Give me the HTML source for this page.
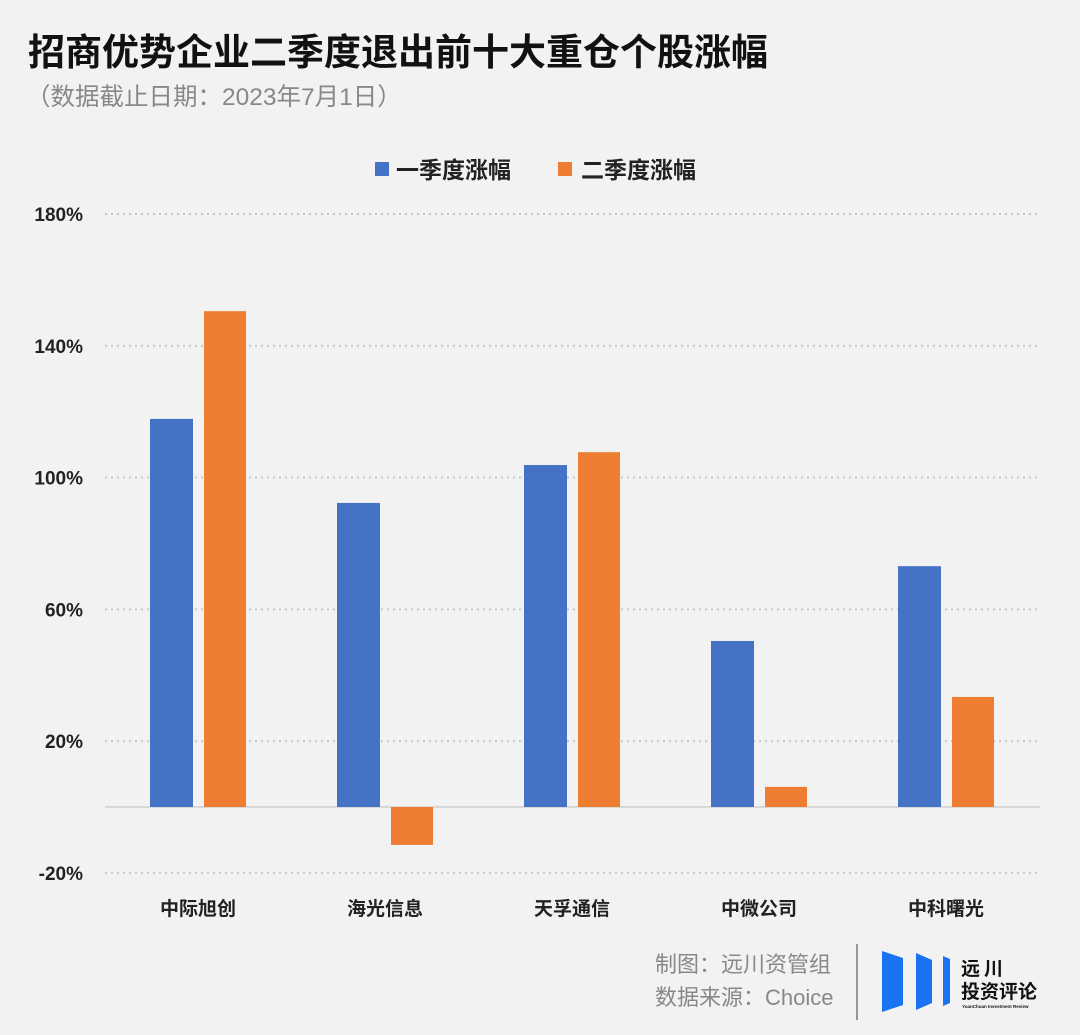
<!DOCTYPE html>
<html><head><meta charset="utf-8"><style>
body{margin:0;background:#f2f2f2;}
#c{position:relative;width:1080px;height:1035px;background:#f2f2f2;font-family:"Liberation Sans","Noto Sans CJK SC",sans-serif;overflow:hidden}
</style></head><body>
<div id="c">
<svg width="1080" height="1035" style="position:absolute;left:0;top:0">
<text x="28" y="65" font-size="37" font-weight="bold" fill="#111" font-family="Liberation Sans, Noto Sans CJK SC, sans-serif">招商优势企业二季度退出前十大重仓个股涨幅</text>
<text x="26" y="105" font-size="24.5" fill="#888" font-family="Liberation Sans, Noto Sans CJK SC, sans-serif">（数据截止日期：2023年7月1日）</text>
<g>
<rect x="375" y="162" width="14" height="14" fill="#4472c4"/>
<text x="396" y="178" font-size="23" font-weight="bold" fill="#222" font-family="Liberation Sans, Noto Sans CJK SC, sans-serif">一季度涨幅</text>
<rect x="558" y="162" width="14" height="14" fill="#ed7d31"/>
<text x="581" y="178" font-size="23" font-weight="bold" fill="#222" font-family="Liberation Sans, Noto Sans CJK SC, sans-serif">二季度涨幅</text>
</g>
<g id="grid"></g><g id="bars"></g><g id="labels"></g>
<text x="655" y="972" font-size="22" fill="#888" font-family="Liberation Sans, Noto Sans CJK SC, sans-serif">制图：远川资管组</text>
<text x="655" y="1005" font-size="22" fill="#888" font-family="Liberation Sans, Noto Sans CJK SC, sans-serif">数据来源：Choice</text>
<line x1="857" y1="944" x2="857" y2="1020" stroke="#777" stroke-width="1.5"/>
<g>
<polygon points="882,951 903,958 903,1005 882,1012" fill="#1a73f0"/>
<polygon points="916,953 932,960 932,1003 916,1010" fill="#1a73f0"/>
<polygon points="943,956 950,959 950,1003 943,1006" fill="#1a73f0"/>
<text x="961" y="975" font-size="19" font-weight="bold" fill="#111" letter-spacing="4" font-family="Liberation Sans, Noto Sans CJK SC, sans-serif">远川</text>
<text x="961" y="998" font-size="19" font-weight="bold" fill="#111" font-family="Liberation Sans, Noto Sans CJK SC, sans-serif">投资评论</text>
<text x="962" y="1008" font-size="4.5" font-weight="bold" fill="#111" font-family="Liberation Sans, sans-serif">YuanChuan Investment Review</text>
</g>
</svg>
</div>
<script>
const categories=["中际旭创","海光信息","天孚通信","中微公司","中科曙光"];
const q1Values=[117.8,92.3,103.8,50.4,73.1];
const q2Values=[150.5,-11.5,107.7,6.1,33.4];
const tickValues=[180,140,100,60,20,-20];
const tickLabels=["180%","140%","100%","60%","20%","-20%"];
const NS="http://www.w3.org/2000/svg";
function y(v){return 807-(v)*(807-214)/180;}
function xc(i){return 198+i*187;}
function mk(t,a,p){const e=document.createElementNS(NS,t);for(const k in a)e.setAttribute(k,a[k]);p.appendChild(e);return e;}
const grid=document.getElementById('grid'),bars=document.getElementById('bars'),labels=document.getElementById('labels');
tickValues.forEach((v,i)=>{
 const l=mk('line',{x1:105,x2:1040,y1:y(v),y2:y(v),stroke:'#c8c8c8','stroke-width':2,'stroke-dasharray':'2,4'},grid);
 
 
 const t=mk('text',{x:83,y:y(v)+7,'text-anchor':'end','font-size':19,'font-weight':'bold',fill:'#222','font-family':'Liberation Sans, sans-serif'},labels);
 t.textContent=tickLabels[i];
 
 
});
const z=mk('line',{x1:105,x2:1040,y1:y(0),y2:y(0),stroke:'#cfcfcf','stroke-width':1.5},grid);


categories.forEach((c,i)=>{
 const a=q1Values[i],b=q2Values[i];
 const r1=mk('rect',{x:xc(i)-48,width:43,y:Math.min(y(a),y(0)),height:Math.abs(y(a)-y(0)),fill:'#4472c4'},bars);
 
 
 const r2=mk('rect',{x:xc(i)+6,width:42,y:Math.min(y(b),y(0)),height:Math.abs(y(b)-y(0)),fill:'#ed7d31'},bars);
 
 
 const t=mk('text',{x:xc(i),y:915,'text-anchor':'middle','font-size':19,'font-weight':'bold',fill:'#222','font-family':'Liberation Sans, Noto Sans CJK SC, sans-serif'},labels);
 t.textContent=c;
 
 
});
</script>
</body></html>
